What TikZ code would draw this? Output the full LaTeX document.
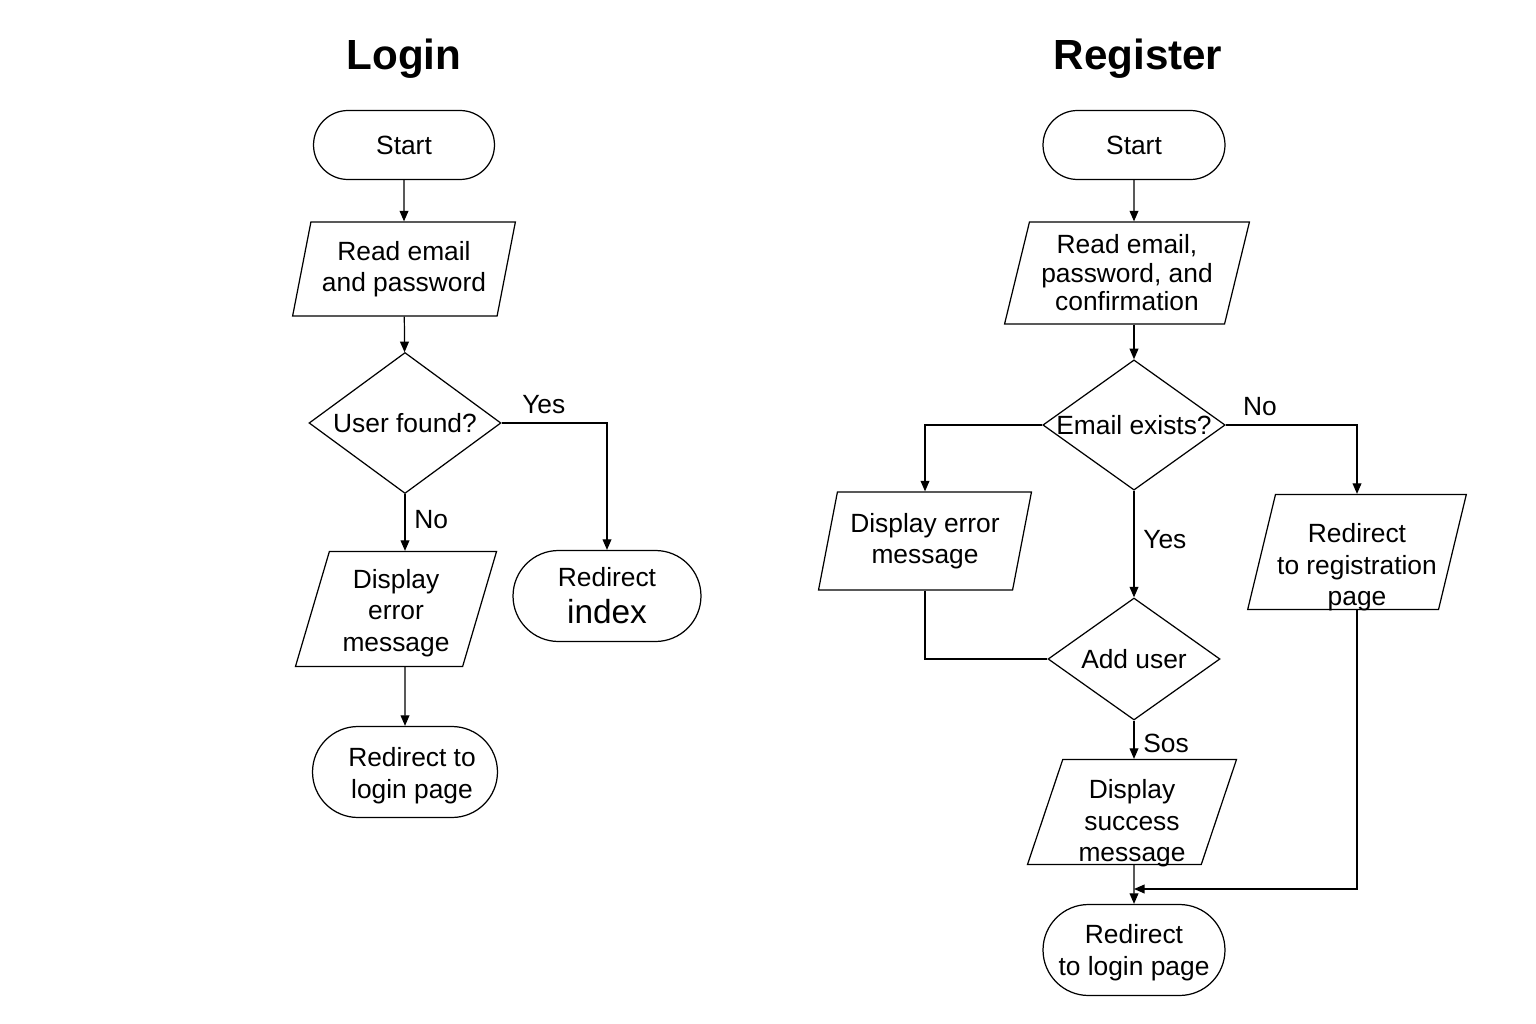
\documentclass[tikz,border=0pt]{standalone}
\usepackage{fontspec}
\setmainfont{Liberation Sans}
\usetikzlibrary{shapes.geometric,shapes.misc,arrows.meta}
% text block drawn lower than the node's centre
\newcommand{\downtext}[2]{\raisebox{-#1}[\height][\depth]{\begin{tabular}{@{}c@{}}#2\end{tabular}}}

\begin{document}
\begin{tikzpicture}[x=0.02cm, y=-0.02cm, line width=0.7pt,
    >={Triangle[length=6pt,width=5pt]},
    every node/.style = {font=\fontsize{15}{18}\selectfont, align=center, inner sep=0pt},
    term/.style = {rounded rectangle, draw},
    io/.style = {trapezium, trapezium left angle=74, trapezium right angle=106,
      trapezium stretches=true, draw},
    decision/.style = {diamond, aspect=1.4, draw},
    lbl/.style = {inner sep=5pt},
    title/.style = {font=\bfseries\fontsize{24}{28}\selectfont}]
  \useasboundingbox (0,0) rectangle (1536,1024);

  \node[title] (ltitle) at (404,59) {Login};
  \node[title] (rtitle) at (1138,59) {Register};

  % login
  \node[term, minimum width=3.62cm, minimum height=1.38cm] (lstart) at (404,145) {Start};
  \node[io, minimum width=4.46cm, minimum height=1.88cm] (lread) at (404,269) {Read email\\and password};
  \node[decision, minimum width=3.84cm, minimum height=2.82cm] (lfound) at (405,423) {User found?};
  \node[io, minimum width=4.06cm, minimum height=2.3cm] (lerr) at (396,609) {\downtext{2.5pt}{Display\\error\\message}};
  \node[term, minimum width=3.76cm, minimum height=1.82cm] (lindex) at (607,596) {Redirect\\[3pt]{\fontsize{19}{20}\selectfont index}};
  \node[term, minimum width=3.7cm, minimum height=1.82cm] (llogin) at (405,772) {\downtext{2.3pt}{\hspace{8pt}Redirect to\\\hspace{8pt}login page}};

  \draw[->] (lstart) -- (lread);
  \draw[->] (lread) -- (lfound);
  \draw[->] (lfound.east) -| node[lbl, above, pos=.2] {Yes} (lindex.north);
  \draw[->] (lfound.south) -- node[lbl, right, pos=.45] {No} (lfound.south |- lerr.north);
  \draw[->] (llogin.north |- lerr.south) -- (llogin);

  % register
  \node[term, minimum width=3.64cm, minimum height=1.38cm] (rstart) at (1134,145) {Start};
  \node[io, minimum width=4.9cm, minimum height=2.04cm] (rread) at (1127,273) {Read email,\\[-1.8pt]password, and\\[-1.8pt]confirmation};
  \node[decision, minimum width=3.6cm, minimum height=2.5cm] (rexists) at (1134,425) {Email exists?};
  \node[io, minimum width=4.26cm, minimum height=1.96cm] (rerr) at (925,541) {Display error\\message};
  \node[io, minimum width=4.38cm, minimum height=2.3cm] (rreg) at (1357,552) {\downtext{9pt}{Redirect\\to registration\\page}};
  \node[decision, minimum width=3.44cm, minimum height=2.44cm] (radd) at (1134,659) {Add user};
  \node[io, minimum width=4.22cm, minimum height=2.1cm] (rsucc) at (1132,812) {\downtext{6.8pt}{Display\\success\\message}};
  \node[term, minimum width=3.64cm, minimum height=1.82cm] (rlogin) at (1134,950) {\downtext{1.7pt}{Redirect\\to login page}};
  \coordinate (rjoin) at (1134,889);

  \draw[->] (rstart) -- (rstart |- rread.north);
  \draw[->] (rexists.north |- rread.south) -- (rexists);
  \draw[->] (rexists.west) -| (rerr.north);
  \draw[->] (rexists.east) -| node[lbl, above, pos=.13] {No} (rreg.north);
  \draw[->] (rexists) -- node[lbl, right, pos=.46] {Yes} (radd);
  \draw (rerr.south) |- (radd.west);
  \draw[->] (radd) -- node[lbl, right, pos=.6] {Sos} (rsucc.north -| radd);
  \draw[->] (rsucc.south -| rlogin) -- (rlogin);
  \draw[->] (rreg.south) |- (rjoin);
\end{tikzpicture}
\end{document}
